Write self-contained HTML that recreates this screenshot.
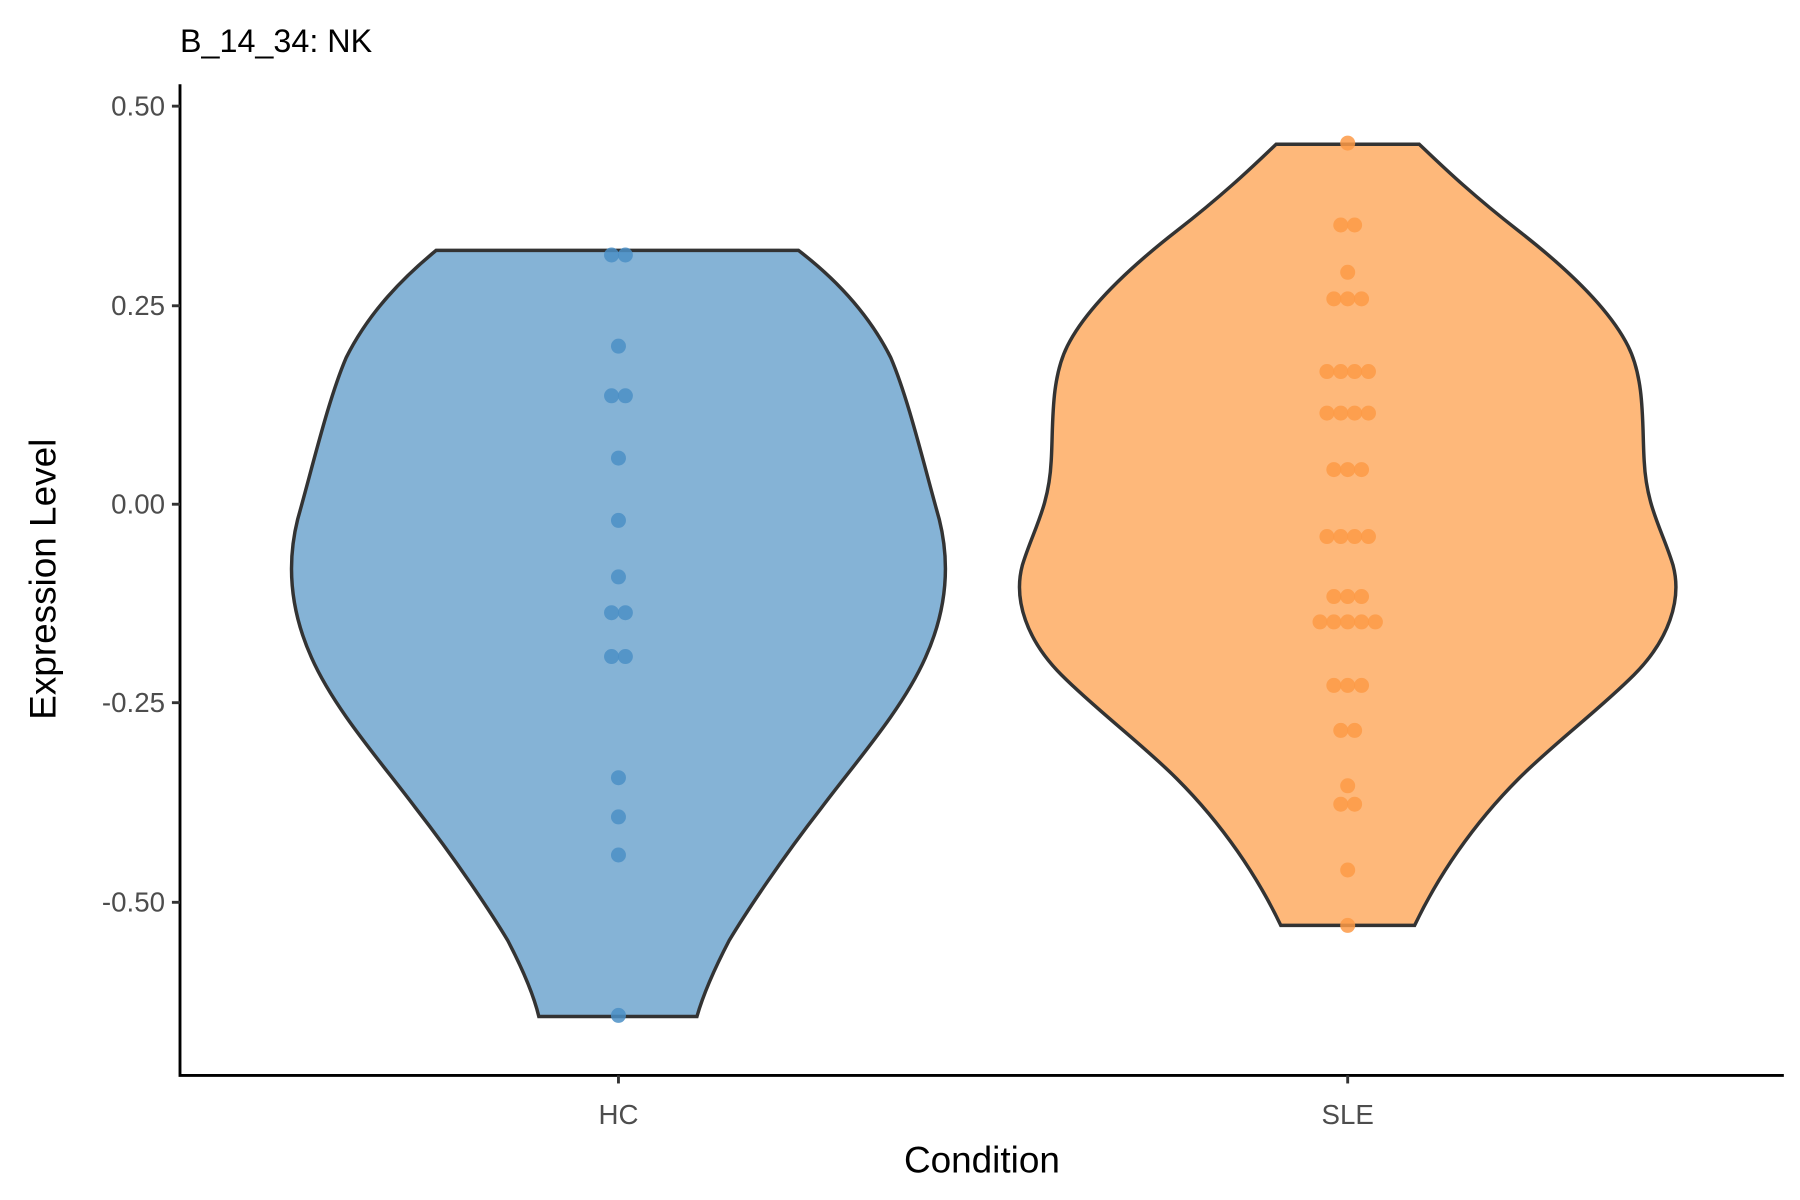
<!DOCTYPE html>
<html><head><meta charset="utf-8"><style>html,body{margin:0;padding:0;background:#fff;}svg{display:block}</style></head>
<body>
<svg width="1800" height="1200" viewBox="0 0 1560 1040" xmlns="http://www.w3.org/2000/svg" font-family="Liberation Sans, Arial, sans-serif">
<rect width="1560" height="1040" fill="#fff"/>
<text x="156" y="45" font-size="28" fill="#000">B_14_34: NK</text>
<path d="M378,217 C350,240 320,270 300,310 C285,345 272,400 258,450 C248,490 252,530 270,570 C290,615 330,660 360,700 C395,745 425,790 440,815 C452,838 462,860 467,881 L604,881 C610,860 620,838 632,815 C647,790 677,745 712,700 C742,660 782,615 802,570 C820,530 824,490 814,450 C800,400 787,345 772,310 C752,270 722,240 692,217 Z" fill="#85b3d6" stroke="#333" stroke-width="3"/>
<path d="M1106,125 C1090,140 1065,165 1020,200 C975,235 940,270 925,300 C910,330 913,370 911,400 C909,440 895,460 886,490 C878,520 890,555 920,585 C950,615 990,645 1020,675 C1060,715 1090,760 1110,802 L1226,802 C1246,760 1276,715 1316,675 C1346,645 1386,615 1416,585 C1446,555 1458,520 1450,490 C1441,460 1427,440 1425,400 C1423,370 1426,330 1411,300 C1396,270 1361,235 1316,200 C1271,165 1246,140 1230,125 Z" fill="#feb87a" stroke="#333" stroke-width="3"/>
<g fill="#4b8fc6" fill-opacity="0.85">
<circle cx="530" cy="221" r="6.5"/><circle cx="542" cy="221" r="6.5"/><circle cx="536" cy="300" r="6.5"/>
<circle cx="530" cy="343" r="6.5"/><circle cx="542" cy="343" r="6.5"/><circle cx="536" cy="397" r="6.5"/>
<circle cx="536" cy="451" r="6.5"/><circle cx="536" cy="500" r="6.5"/><circle cx="530" cy="531" r="6.5"/><circle cx="542" cy="531" r="6.5"/>
<circle cx="530" cy="569" r="6.5"/><circle cx="542" cy="569" r="6.5"/><circle cx="536" cy="674" r="6.5"/><circle cx="536" cy="708" r="6.5"/>
<circle cx="536" cy="741" r="6.5"/><circle cx="536" cy="880" r="6.5"/>
</g>
<g fill="#fd9a47" fill-opacity="0.85">
<circle cx="1168" cy="124" r="6.5"/><circle cx="1162" cy="195" r="6.5"/><circle cx="1174" cy="195" r="6.5"/><circle cx="1168" cy="236" r="6.5"/>
<circle cx="1156" cy="259" r="6.5"/><circle cx="1168" cy="259" r="6.5"/><circle cx="1180" cy="259" r="6.5"/>
<circle cx="1150" cy="322" r="6.5"/><circle cx="1162" cy="322" r="6.5"/><circle cx="1174" cy="322" r="6.5"/><circle cx="1186" cy="322" r="6.5"/>
<circle cx="1150" cy="358" r="6.5"/><circle cx="1162" cy="358" r="6.5"/><circle cx="1174" cy="358" r="6.5"/><circle cx="1186" cy="358" r="6.5"/>
<circle cx="1156" cy="407" r="6.5"/><circle cx="1168" cy="407" r="6.5"/><circle cx="1180" cy="407" r="6.5"/>
<circle cx="1150" cy="465" r="6.5"/><circle cx="1162" cy="465" r="6.5"/><circle cx="1174" cy="465" r="6.5"/><circle cx="1186" cy="465" r="6.5"/>
<circle cx="1156" cy="517" r="6.5"/><circle cx="1168" cy="517" r="6.5"/><circle cx="1180" cy="517" r="6.5"/>
<circle cx="1144" cy="539" r="6.5"/><circle cx="1156" cy="539" r="6.5"/><circle cx="1168" cy="539" r="6.5"/><circle cx="1180" cy="539" r="6.5"/><circle cx="1192" cy="539" r="6.5"/>
<circle cx="1156" cy="594" r="6.5"/><circle cx="1168" cy="594" r="6.5"/><circle cx="1180" cy="594" r="6.5"/>
<circle cx="1162" cy="633" r="6.5"/><circle cx="1174" cy="633" r="6.5"/><circle cx="1168" cy="681" r="6.5"/>
<circle cx="1162" cy="697" r="6.5"/><circle cx="1174" cy="697" r="6.5"/><circle cx="1168" cy="754" r="6.5"/><circle cx="1168" cy="802" r="6.5"/>
</g>
<g stroke="#000" stroke-width="2.5" fill="none">
<path d="M156,73 V932 H1546"/>
</g>
<g stroke="#333" stroke-width="2.5">
<line x1="149" y1="92" x2="156" y2="92"/><line x1="149" y1="265" x2="156" y2="265"/><line x1="149" y1="437" x2="156" y2="437"/>
<line x1="149" y1="609" x2="156" y2="609"/><line x1="149" y1="782" x2="156" y2="782"/>
<line x1="536" y1="932" x2="536" y2="939"/><line x1="1168" y1="932" x2="1168" y2="939"/>
</g>
<g font-size="24" fill="#4d4d4d" text-anchor="end">
<text x="143" y="100">0.50</text><text x="143" y="273">0.25</text><text x="143" y="445">0.00</text>
<text x="143" y="617">-0.25</text><text x="143" y="790">-0.50</text>
</g>
<g font-size="24" fill="#4d4d4d" text-anchor="middle">
<text x="536" y="974">HC</text><text x="1168" y="974">SLE</text>
</g>
<text x="851" y="1016" font-size="32" text-anchor="middle" fill="#000">Condition</text>
<text transform="translate(48,502) rotate(-90)" font-size="32" text-anchor="middle" fill="#000">Expression Level</text>
</svg>
</body></html>
